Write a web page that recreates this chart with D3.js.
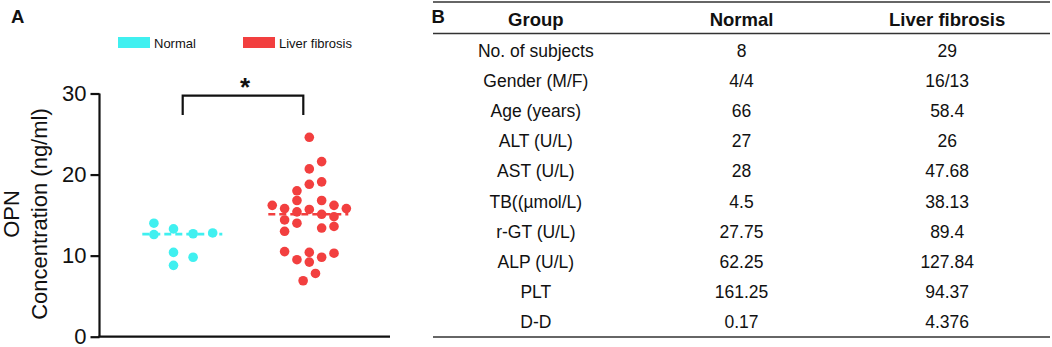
<!DOCTYPE html>
<html>
<head>
<meta charset="utf-8">
<script src="https://cdn.jsdelivr.net/npm/d3@7"></script>
<style>
  html, body { margin: 0; padding: 0; background: #fff; }
  text { font-family: "Liberation Sans", Arial, "DejaVu Sans", sans-serif; }
</style>
</head>
<body>
<svg id="chart" width="1052" height="347"></svg>
<script>
// ---------- Data ----------
const groups = ["Normal", "Liver fibrosis"];
const groupColors = ["#40f0f0", "#f23f3f"];

const normalValues = [14.0, 12.6, 13.3, 10.4, 8.8, 12.7, 9.8, 12.8];
const normalLanes  = [-1.5, -1.5, -0.5, -0.5, -0.5, 0.5, 0.5, 1.5];

const fibrosisValues = [24.6, 21.6, 20.7, 18.8, 19.1, 18.0, 16.8, 16.8, 16.2, 16.2,
                        15.8, 15.4, 15.7, 15.8, 15.1, 14.8, 14.4, 14.0, 13.4, 13.6,
                        13.0, 10.5, 10.4, 10.3, 9.5, 9.8, 9.2, 7.8, 6.9];
const fibrosisLanes  = [0, 1, 0, 0, 1, -1, -1, 1, -3, 2,
                        -2, -1, 0, 3, 1, 2, -2, -1, 1, 2,
                        -2, -2, 0, 2, -1, 1, 0, 0.5, -0.5];

const yTicks = [0, 10, 20, 30];
const yLabelLines = ["OPN", "Concentration (ng/ml)"];
const significance = "*";

const tableHeaders = ["Group", "Normal", "Liver fibrosis"];
const rowLabels = ["No. of subjects", "Gender (M/F)", "Age (years)", "ALT (U/L)", "AST (U/L)",
                   "TB((\u00B5mol/L)", "r-GT (U/L)", "ALP (U/L)", "PLT", "D-D"];
const normalColumn = ["8", "4/4", "66", "27", "28", "4.5", "27.75", "62.25", "161.25", "0.17"];
const fibrosisColumn = ["29", "16/13", "58.4", "26", "47.68", "38.13", "89.4", "127.84", "94.37", "4.376"];

// ---------- Panel A ----------
const svg = d3.select("#chart");
const ink = "#111";

const y = d3.scaleLinear().domain([0, 30]).range([336.7, 93.5]);
const x = d3.scalePoint().domain(groups).range([183.3, 309.3]);
const laneSpacing = { "Normal": 19.6, "Liver fibrosis": 12.35 };
const color = d3.scaleOrdinal().domain(groups).range(groupColors);

svg.append("text").attr("x", 11).attr("y", 22.5)
  .attr("font-size", 18.5).attr("font-weight", "bold").attr("fill", ink).text("A");
svg.append("text").attr("x", 431.5).attr("y", 22.5)
  .attr("font-size", 18.5).attr("font-weight", "bold").attr("fill", ink).text("B");

// legend
const legendX = [118, 243];
groups.forEach((g, i) => {
  svg.append("rect").attr("x", legendX[i]).attr("y", 37).attr("width", 32).attr("height", 11)
    .attr("fill", color(g));
  svg.append("text").attr("x", legendX[i] + 36).attr("y", 47.5)
    .attr("font-size", 13).attr("fill", ink).text(g);
});

// y axis
const yAxis = d3.axisLeft(y).tickValues(yTicks).tickSize(9).tickPadding(4);
const gy = svg.append("g").attr("transform", "translate(99.5,0)").call(yAxis);
gy.select(".domain").attr("stroke", ink).attr("stroke-width", 2.2).attr("d", `M0,${y(30)}V${y(0)}`);
gy.selectAll(".tick line").attr("stroke", ink).attr("stroke-width", 2.2);
gy.selectAll(".tick text").attr("font-size", 22).attr("fill", ink)
  .attr("font-family", "'Liberation Sans', Arial, sans-serif");

// x axis line
svg.append("line").attr("x1", 98.4).attr("x2", 390).attr("y1", y(0)).attr("y2", y(0))
  .attr("stroke", ink).attr("stroke-width", 2.2);

// y label
const yLabelX = [18.8, 47];
yLabelLines.forEach((t, i) => {
  svg.append("text")
    .attr("transform", `translate(${yLabelX[i]},214) rotate(-90)`)
    .attr("text-anchor", "middle").attr("font-size", 22).attr("fill", ink).text(t);
});

// points
const series = [
  { group: groups[0], values: normalValues, lanes: normalLanes },
  { group: groups[1], values: fibrosisValues, lanes: fibrosisLanes }
];

series.forEach(s => {
  const cx = x(s.group);
  const med = d3.median(s.values);
  svg.append("g").selectAll("circle")
    .data(s.values.map((v, i) => ({ v, lane: s.lanes[i] })))
    .join("circle")
    .attr("cx", d => cx + d.lane * laneSpacing[s.group])
    .attr("cy", d => y(d.v))
    .attr("r", 4.8)
    .attr("fill", color(s.group));
  svg.append("line")
    .attr("x1", cx - 41).attr("x2", cx + 39)
    .attr("y1", y(med)).attr("y2", y(med))
    .attr("stroke", color(s.group)).attr("stroke-width", 2.6)
    .attr("stroke-dasharray", "7,4");
});

// significance bracket
const bx1 = x(groups[0]) - 0.6, bx2 = x(groups[1]) - 6;
svg.append("path")
  .attr("d", `M${bx1},115 V95.7 H${bx2} V115`)
  .attr("fill", "none").attr("stroke", ink).attr("stroke-width", 2.2);
svg.append("text").attr("x", (bx1 + bx2) / 2 + 2).attr("y", 96)
  .attr("text-anchor", "middle").attr("font-size", 26).attr("font-weight", "bold")
  .attr("fill", ink).text(significance);

// ---------- Panel B (table) ----------
const col = d3.scaleBand().domain(tableHeaders).range([433, 1050]);
const row = d3.scaleBand().domain(d3.range(rowLabels.length)).range([35.4, 337.4]);
const lineColor = "#333";

[2, 33.5, 337].forEach(yy => {
  svg.append("line").attr("x1", 433).attr("x2", 1050).attr("y1", yy).attr("y2", yy)
    .attr("stroke", lineColor).attr("stroke-width", 1.6);
});

tableHeaders.forEach(h => {
  svg.append("text").attr("x", col(h) + col.bandwidth() / 2).attr("y", 19.3)
    .attr("dy", "0.35em").attr("text-anchor", "middle")
    .attr("font-size", 18.5).attr("font-weight", "bold").attr("fill", ink).text(h);
});

const columns = [rowLabels, normalColumn, fibrosisColumn];
columns.forEach((cells, ci) => {
  svg.append("g").selectAll("text")
    .data(cells)
    .join("text")
    .attr("x", col(tableHeaders[ci]) + col.bandwidth() / 2)
    .attr("y", (d, i) => row(i) + row.bandwidth() / 2)
    .attr("dy", "0.35em")
    .attr("text-anchor", "middle")
    .attr("font-size", 17.5)
    .attr("fill", ink)
    .text(d => d);
});
</script>
</body>
</html>
